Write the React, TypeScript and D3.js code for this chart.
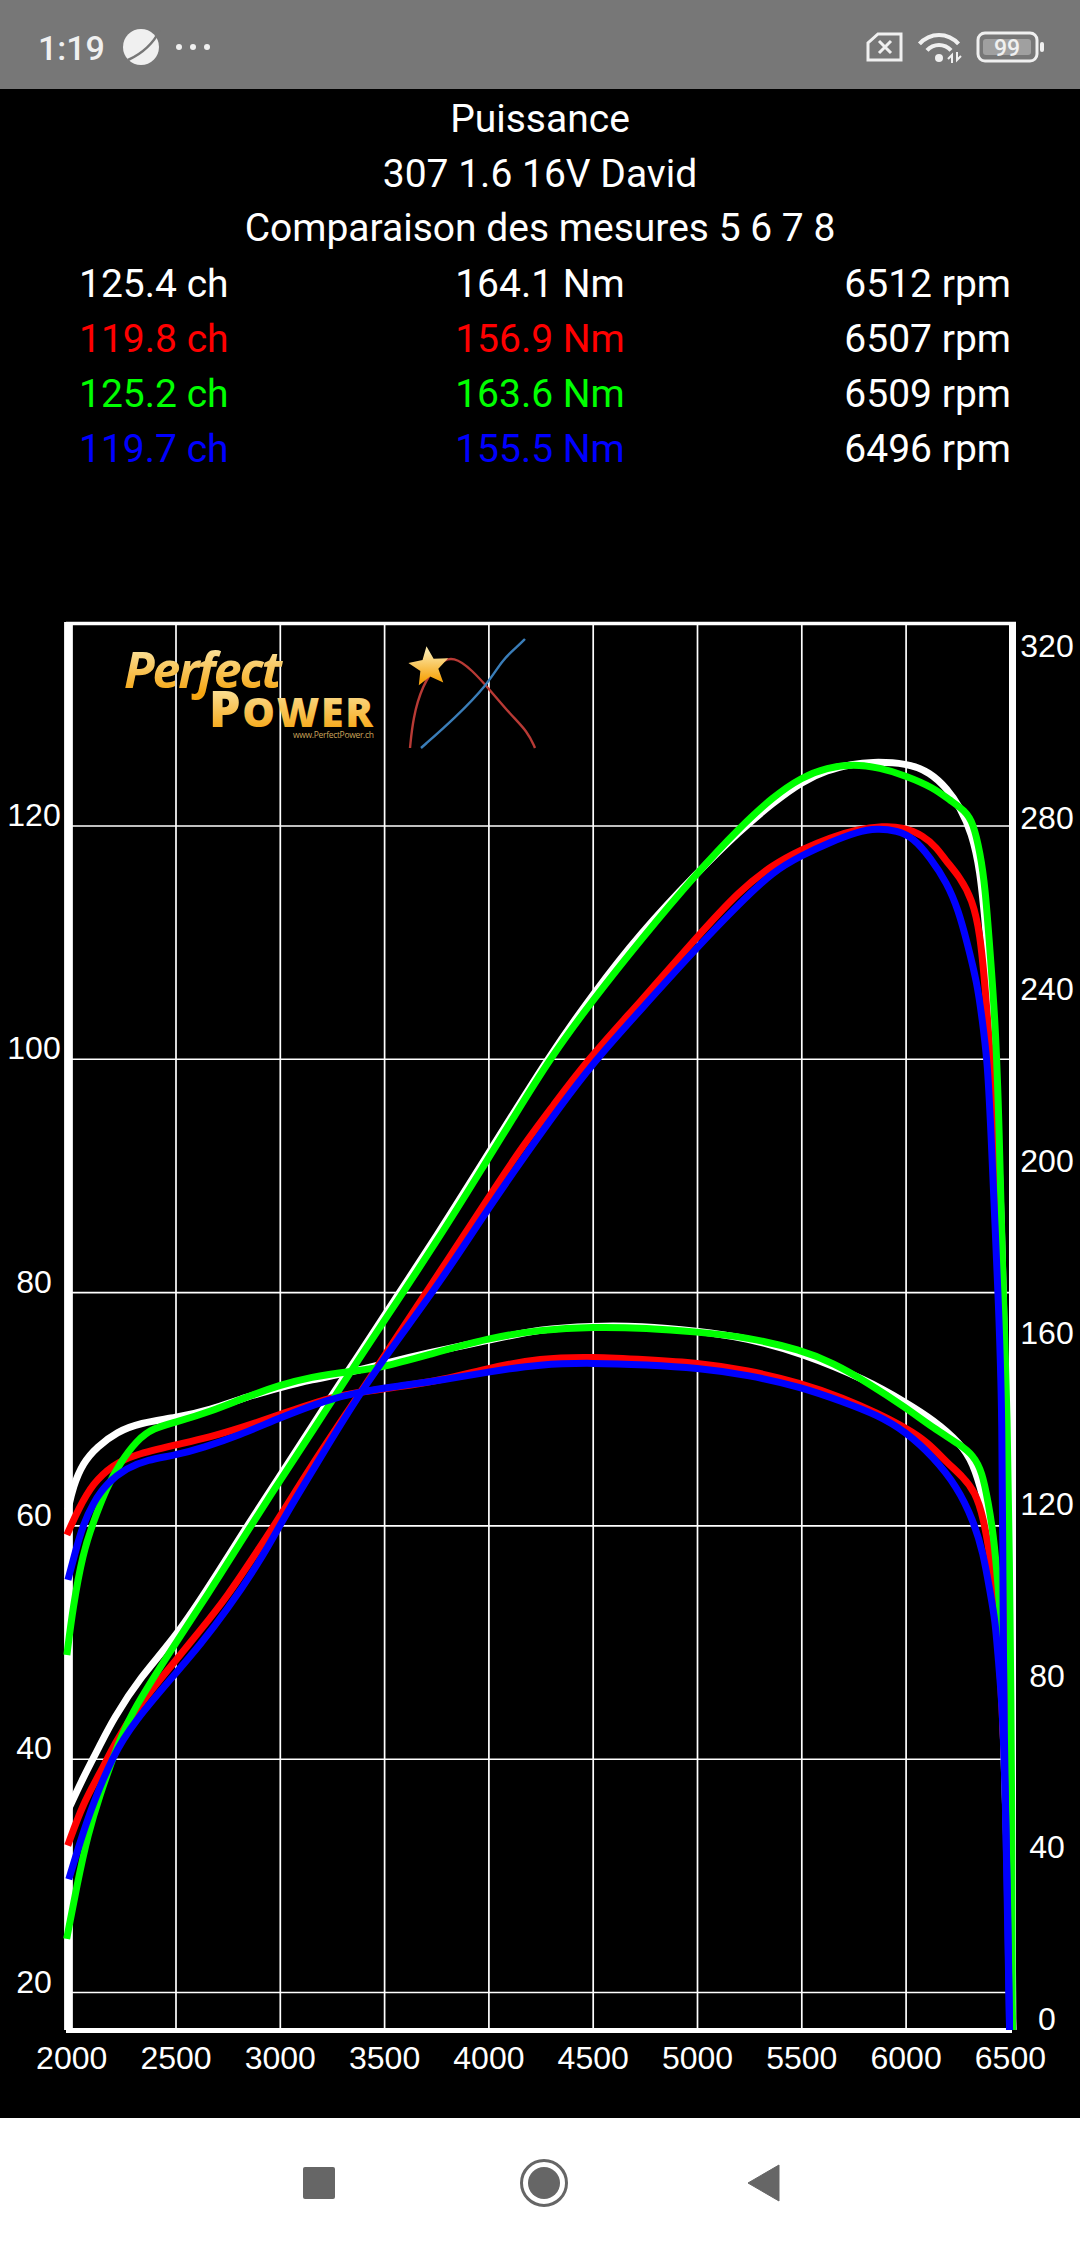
import React, { useEffect, useRef } from 'react';
import * as d3 from 'd3';

// dyno readout: power (ch, left axis) and torque (Nm, right axis) against rpm

const WIDTH = 1080;
const HEIGHT = 2248;

const titles = ['Puissance', '307 1.6 16V David', 'Comparaison des mesures 5 6 7 8'];
const peakPower = ['125.4 ch', '119.8 ch', '125.2 ch', '119.7 ch'];
const peakTorque = ['164.1 Nm', '156.9 Nm', '163.6 Nm', '155.5 Nm'];
const peakRpm = ['6512 rpm', '6507 rpm', '6509 rpm', '6496 rpm'];
const runColors = ['#ffffff', '#ff0000', '#00ff00', '#0000ff'];

const rpmTicks = [2000, 2500, 3000, 3500, 4000, 4500, 5000, 5500, 6000, 6500];
const powerTicks = [20, 40, 60, 80, 100, 120];
const torqueTicks = [0, 40, 80, 120, 160, 200, 240, 280, 320];

// [rpm, ch]
const powerWhite = [[1982, 35.6], [2054, 38.4], [2136, 41.2], [2198, 43.4], [2327, 47], [2500, 50.5], [2677, 55.3], [2855, 60.4], [3000, 64.3], [3157, 68.7], [3344, 73.8], [3454, 76.8], [3766, 85.3], [4000, 92], [4293, 100.4], [4499, 105.6], [4725, 110.8], [4998, 116], [5204, 119.6], [5362, 122], [5501, 123.8], [5621, 124.8], [5745, 125.3], [5827, 125.5], [6005, 125.4], [6115, 124.6], [6197, 123.2], [6259, 121.6], [6315, 119.4], [6355, 116.2], [6378, 111.9], [6400, 107.7], [6440, 94.8], [6470, 79.4], [6495, 51.9], [6505, 36.5], [6512, 16.8]];
const powerRed = [[1981, 32.6], [2054, 36.2], [2136, 38.8], [2208, 41.4], [2303, 44.2], [2500, 48.5], [2605, 50.8], [2745, 53.9], [2903, 58.2], [2999, 60.8], [3157, 65.4], [3368, 71], [3540, 75.7], [3766, 81.8], [4000, 88.2], [4163, 92.6], [4307, 96], [4470, 99.9], [4725, 104.9], [4998, 110.5], [5204, 114.5], [5362, 116.7], [5501, 118], [5635, 119], [5765, 119.7], [5889, 120], [5986, 119.9], [6082, 119.2], [6149, 118.1], [6187, 117.1], [6259, 115.6], [6317, 113.7], [6355, 110.8], [6379, 106.2], [6403, 100.5], [6418, 96.3], [6451, 79.4], [6470, 62.2], [6485, 45.1], [6507, 16.8]];
const powerGreen = [[1976, 24.6], [2024, 29.1], [2078, 33.6], [2136, 37], [2198, 40.1], [2270, 43.6], [2500, 50], [2677, 54.8], [2855, 59.9], [2999, 63.9], [3157, 68.2], [3344, 73.4], [3454, 76.4], [3766, 84.8], [4000, 91.6], [4101, 94.5], [4293, 100.1], [4499, 105.1], [4725, 110.2], [4998, 116], [5204, 119.9], [5362, 122.5], [5501, 124.2], [5621, 125], [5745, 125.3], [5875, 125], [6000, 124.3], [6130, 123.3], [6211, 122.2], [6283, 121.3], [6321, 120.3], [6355, 117.7], [6379, 114.8], [6403, 109.1], [6427, 103.4], [6446, 94.8], [6465, 79.4], [6485, 70.8], [6499, 51.9], [6507, 36.5], [6509, 16.8]];
const powerBlue = [[1986, 29.7], [2040, 32.9], [2102, 36.2], [2198, 40.3], [2294, 43.1], [2500, 47.4], [2615, 49.8], [2745, 52.8], [2903, 57], [2984, 59.6], [3061, 62], [3224, 66.8], [3382, 71.4], [3560, 75.9], [3766, 80.9], [4000, 87.3], [4183, 92], [4327, 95.6], [4499, 99.7], [4725, 104.2], [4998, 109.6], [5204, 113.4], [5362, 116.1], [5501, 117.5], [5635, 118.6], [5765, 119.5], [5860, 119.8], [5957, 119.6], [6034, 119], [6115, 117.3], [6197, 115.1], [6250, 112.8], [6293, 110], [6341, 106.5], [6365, 103.4], [6389, 99.9], [6403, 95.4], [6442, 79.4], [6461, 70.8], [6465, 48.5], [6475, 37.4], [6496, 16.8]];

// [rpm, Nm]
const torqueWhite = [[1982, 121.2], [2006, 126.6], [2054, 132.2], [2121, 135.9], [2217, 139.4], [2327, 141.5], [2500, 142.7], [2663, 144.5], [2840, 147.6], [2999, 149.7], [3142, 151.5], [3349, 153.4], [3512, 155.5], [3703, 157.8], [4005, 160.8], [4245, 163.4], [4499, 164.1], [4725, 164.1], [4998, 162.9], [5237, 161.3], [5496, 157.8], [5812, 151.5], [6000, 146.2], [6130, 142.2], [6259, 136.8], [6321, 132.2], [6370, 124.2], [6418, 114.2], [6451, 95.6], [6475, 53.6], [6499, 18.6], [6512, 0]];
const torqueRed = [[1977, 115.4], [2030, 121.2], [2102, 127.5], [2198, 131.7], [2294, 134], [2500, 136.4], [2663, 138.2], [2807, 140.3], [2999, 143.4], [3224, 147.3], [3382, 148.7], [3540, 149.7], [3780, 151.5], [4000, 154.3], [4245, 156.6], [4499, 156.9], [4758, 156.2], [4998, 155.5], [5237, 153.8], [5496, 150.8], [5698, 147.3], [5860, 143.8], [6000, 140.3], [6101, 137.1], [6197, 132.2], [6273, 128.9], [6331, 125.4], [6370, 119.6], [6403, 110.3], [6427, 101.9], [6460, 76.9], [6490, 42], [6500, 20], [6507, 0]];
const torqueGreen = [[1977, 87.4], [2006, 98.6], [2054, 111.2], [2102, 118.2], [2169, 126.6], [2232, 132.2], [2313, 137.5], [2390, 140.3], [2500, 141.7], [2663, 144.1], [2840, 147.6], [2999, 150.3], [3142, 152.2], [3349, 153.6], [3478, 154.3], [3703, 157.3], [4000, 161.3], [4245, 163.2], [4499, 163.9], [4758, 163.6], [4998, 162.7], [5237, 161.5], [5496, 158.5], [5649, 155.5], [5812, 151], [6000, 145], [6130, 140.3], [6259, 136.4], [6321, 134], [6365, 130.1], [6394, 122.8], [6418, 115.9], [6442, 103.3], [6461, 90], [6470, 70], [6485, 42], [6509, 0]];
const torqueBlue = [[1982, 104.9], [2016, 111.2], [2054, 117.7], [2102, 122.8], [2169, 127.5], [2265, 131], [2361, 132.9], [2500, 134], [2629, 135.7], [2807, 138.7], [2999, 142.7], [3224, 146.9], [3382, 148.7], [3540, 149.9], [3780, 151.5], [4000, 153.4], [4245, 155.2], [4499, 155.5], [4758, 155], [4998, 154.3], [5237, 152.7], [5496, 149.9], [5698, 146.4], [5860, 143.4], [6000, 139.4], [6130, 133.6], [6245, 126.6], [6321, 118.9], [6370, 111.2], [6403, 101.9], [6427, 95.6], [6442, 86.2], [6461, 76], [6475, 55.9], [6489, 25.6], [6496, 0]];

const powerRuns = [powerWhite, powerRed, powerGreen, powerBlue];
const torqueRuns = [torqueWhite, torqueRed, torqueGreen, torqueBlue];

// logo swooshes, in logo pixels
const logoRed = [[0, 100], [3, 70], [12, 38], [28, 14], [44, 8], [62, 22], [80, 42], [100, 66], [118, 84], [125, 100]];
const logoBlue = [[11, 100], [45, 70], [78, 36], [92, 12], [108, -2], [115, -9]];

const App = () => {
    const svgRef = useRef<SVGSVGElement>(null);

    useEffect(() => {
        const svg = d3.select(svgRef.current);
        svg.selectAll('*').remove();

        const x = d3.scaleLinear().domain([2000, 6500]).range([71.7, 1010.4]);
        const yPower = d3.scaleLinear().domain([20, 120]).range([1992.5, 826]);
        const yTorque = d3.scaleLinear().domain([0, 320]).range([2030, 657]);

        // page bands
        svg.append('rect').attr('width', WIDTH).attr('height', HEIGHT).attr('fill', '#000');
        svg.append('rect').attr('width', WIDTH).attr('height', 89).attr('fill', '#777');
        svg.append('rect').attr('y', 2118).attr('width', WIDTH).attr('height', 130).attr('fill', '#fff');

        // status bar
        const status = svg.append('g').attr('fill', '#f0f0f0');
        status.append('text').attr('x', 38).attr('y', 60).attr('font-family', 'Roboto')
            .attr('font-weight', 500).attr('font-size', 34).text('1:19');
        status.append('circle').attr('cx', 141).attr('cy', 47).attr('r', 18);
        status.append('path').attr('d', 'M128 60 Q150 50 160 30').attr('fill', 'none').attr('stroke', '#777').attr('stroke-width', 2.5);
        [179, 193, 207].forEach(cx => status.append('circle').attr('cx', cx).attr('cy', 47).attr('r', 3));
        status.append('path').attr('d', 'M878 34 H901 V60 H868 V43 Z').attr('fill', 'none').attr('stroke', '#f0f0f0').attr('stroke-width', 3);
        status.append('path').attr('d', 'M879 41 L891 53 M891 41 L879 53').attr('fill', 'none').attr('stroke', '#f0f0f0').attr('stroke-width', 3);
        const wifi = status.append('g').attr('transform', 'translate(939,61)');
        [28, 18].forEach(r => wifi.append('path')
            .attr('d', d3.arc()({ innerRadius: r - 4, outerRadius: r, startAngle: -0.85, endAngle: 0.85 })));
        wifi.append('circle').attr('cy', -3).attr('r', 4);
        status.append('path').attr('d', 'M952 63 V55 L948 59 M957 52 V60 L961 56').attr('fill', 'none').attr('stroke', '#f0f0f0').attr('stroke-width', 2);
        status.append('rect').attr('x', 978).attr('y', 33).attr('width', 59).attr('height', 28).attr('rx', 7)
            .attr('fill', 'none').attr('stroke', '#f0f0f0').attr('stroke-width', 3);
        status.append('rect').attr('x', 983).attr('y', 39).attr('width', 48).attr('height', 16).attr('rx', 3).attr('fill', '#a0a0a0');
        status.append('rect').attr('x', 1040).attr('y', 42).attr('width', 4).attr('height', 10).attr('rx', 2);
        status.append('text').attr('x', 1007).attr('y', 56).attr('text-anchor', 'middle').attr('font-family', 'Roboto')
            .attr('font-size', 23).attr('font-weight', 500).text('99');

        // nav bar
        const nav = svg.append('g').attr('fill', '#666');
        nav.append('rect').attr('x', 303).attr('y', 2167).attr('width', 32).attr('height', 32).attr('rx', 2);
        nav.append('circle').attr('cx', 544).attr('cy', 2183).attr('r', 16);
        nav.append('circle').attr('cx', 544).attr('cy', 2183).attr('r', 22.5).attr('fill', 'none').attr('stroke', '#666').attr('stroke-width', 3);
        nav.append('path').attr('d', 'M779 2165 V2201 L748 2183 Z').attr('stroke', '#666').attr('stroke-width', 1).attr('stroke-linejoin', 'round');

        // header text
        const header = svg.append('g').attr('font-family', 'Roboto').attr('font-size', 39);
        titles.forEach((t, i) => {
            header.append('text').attr('x', 540).attr('y', 132 + i * 54.6).attr('text-anchor', 'middle').attr('fill', '#fff').text(t);
        });
        runColors.forEach((c, i) => {
            const rowY = 297 + i * 55;
            header.append('text').attr('x', 79).attr('y', rowY).attr('fill', c).text(peakPower[i]);
            header.append('text').attr('x', 540).attr('y', rowY).attr('text-anchor', 'middle').attr('fill', c).text(peakTorque[i]);
            header.append('text').attr('x', 1011).attr('y', rowY).attr('text-anchor', 'end').attr('fill', '#fff').text(peakRpm[i]);
        });

        // grid and tick labels
        const axisFont = (g: any) => g.attr('font-family', 'Liberation Sans').attr('font-size', 32);

        const xAxis = svg.append('g').attr('transform', `translate(0,2030)`)
            .call(d3.axisBottom(x).tickValues(rpmTicks).tickSize(-1407).offset(0).tickFormat(d3.format('d')))
            .call(axisFont);
        xAxis.select('.domain').remove();
        xAxis.selectAll('.tick line').attr('stroke', '#fff').attr('stroke-width', 1.7);
        xAxis.selectAll('.tick text').attr('fill', '#fff').attr('y', 39).attr('dy', 0);

        const leftAxis = svg.append('g').attr('transform', `translate(71.7,0)`)
            .call(d3.axisLeft(yPower).tickValues(powerTicks).tickSize(-938.7).offset(0))
            .call(axisFont);
        leftAxis.select('.domain').remove();
        leftAxis.selectAll('.tick line').attr('stroke', '#fff').attr('stroke-width', 1.6);
        leftAxis.selectAll('.tick text').attr('fill', '#fff').attr('text-anchor', 'middle').attr('x', -37.7).attr('dy', 0);

        const rightAxis = svg.append('g').attr('transform', `translate(1010.4,0)`)
            .call(d3.axisRight(yTorque).tickValues(torqueTicks).tickSize(0).offset(0))
            .call(axisFont);
        rightAxis.select('.domain').remove();
        rightAxis.selectAll('.tick text').attr('fill', '#fff').attr('text-anchor', 'middle').attr('x', 36.6).attr('dy', 0);

        // logo
        const defs = svg.append('defs');
        const grad = defs.append('linearGradient').attr('id', 'logoGold').attr('x1', 0).attr('x2', 0).attr('y1', 0).attr('y2', 1);
        grad.append('stop').attr('offset', '15%').attr('stop-color', '#fbe6a6');
        grad.append('stop').attr('offset', '85%').attr('stop-color', '#f6a612');

        const logo = svg.append('g').attr('font-family', 'Open Sans');
        logo.append('text').attr('x', 124).attr('y', 688).attr('font-size', 50).attr('font-style', 'italic').attr('font-weight', 700)
            .attr('fill', 'url(#logoGold)').attr('textLength', 158).text('Perfect');
        const power = logo.append('text').attr('x', 209).attr('y', 727).attr('font-weight', 800)
            .attr('fill', 'url(#logoGold)').attr('textLength', 164);
        power.append('tspan').attr('font-size', 50).text('P');
        power.append('tspan').attr('font-size', 41).text('OWER');
        logo.append('text').attr('x', 293).attr('y', 738).attr('font-size', 8.5).attr('fill', '#c9a35a')
            .attr('textLength', 81).text('www.PerfectPower.ch');

        const swoosh = d3.line().curve(d3.curveBasis);
        const swooshes = logo.append('g').attr('transform', 'translate(410,648)').attr('fill', 'none').attr('stroke-width', 2.4);
        swooshes.append('path').attr('d', swoosh(logoRed as any)).attr('stroke', '#b83a35');
        swooshes.append('path').attr('d', swoosh(logoBlue as any)).attr('stroke', '#3a7db8');

        const starPts = d3.range(10).map(i => [i * Math.PI / 5 - 0.12, i % 2 === 0 ? 21 : 9.5]);
        logo.append('path').attr('transform', 'translate(429,667)')
            .attr('d', d3.lineRadial().curve(d3.curveLinearClosed)(starPts as any))
            .attr('fill', 'url(#logoGold)');

        // frame
        const frame = svg.append('g').attr('stroke', '#fff');
        frame.append('line').attr('x1', 68.4).attr('x2', 68.4).attr('y1', 622).attr('y2', 2030).attr('stroke-width', 8.6);
        frame.append('line').attr('x1', 1012.5).attr('x2', 1012.5).attr('y1', 622).attr('y2', 2030).attr('stroke-width', 7);
        frame.append('line').attr('x1', 66).attr('x2', 1016).attr('y1', 623.5).attr('y2', 623.5).attr('stroke-width', 3.5);
        frame.append('line').attr('x1', 66).attr('x2', 1012).attr('y1', 2030.5).attr('y2', 2030.5).attr('stroke-width', 5);

        // curves, basis smooths out the reading noise of the hand-read points
        const powerLine = d3.line().x(d => x(d[0])).y(d => yPower(d[1])).curve(d3.curveBasis);
        const torqueLine = d3.line().x(d => x(d[0])).y(d => yTorque(d[1])).curve(d3.curveBasis);
        const curves = svg.append('g').attr('fill', 'none').attr('stroke-width', 7);
        runColors.forEach((c, i) => {
            curves.append('path').attr('d', torqueLine(torqueRuns[i] as any)).attr('stroke', c);
            curves.append('path').attr('d', powerLine(powerRuns[i] as any)).attr('stroke', c);
        });
    }, []);

    return (
        <svg ref={svgRef} width={WIDTH} height={HEIGHT} style={{ position: 'absolute', left: 0, top: 0, display: 'block' }}></svg>
    );
};

export default App;
